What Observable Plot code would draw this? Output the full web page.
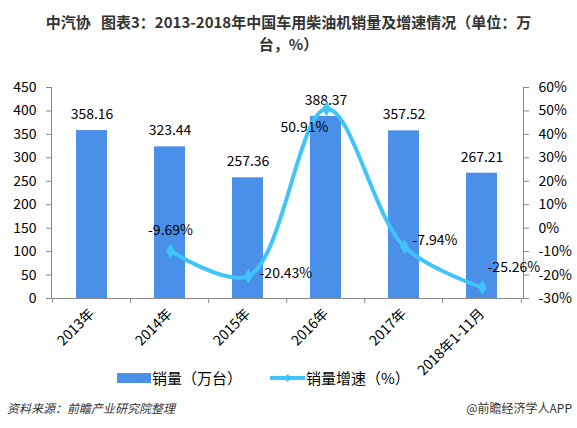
<!DOCTYPE html>
<html>
<head>
<meta charset="utf-8">
<script src="https://cdn.jsdelivr.net/npm/d3@7"></script>
<script src="https://cdn.jsdelivr.net/npm/@observablehq/plot@0.6"></script>
<style>
  body { margin: 0; background: #fff; }
  #wrap { position: relative; width: 577px; height: 428px; overflow: hidden;
          font-family: "Microsoft YaHei", "Noto Sans CJK SC", sans-serif; color: #000; }
  #title { position: absolute; top: 11px; left: 0; width: 577px; text-align: center;
           font-weight: bold; font-size: 15px; line-height: 22px; color: #333; }
  #chart { position: absolute; top: 60px; left: 0; width: 577px; height: 300px; }
  #chart svg { position: absolute; top: 0; left: 0; }
  .legend { position: absolute; top: 367px; font-size: 15px; line-height: 22px; display: flex; align-items: center; }
  .legend svg { margin-right: 1px; }
  .foot { position: absolute; top: 399px; font-size: 12px; line-height: 18px; color: #333; }
</style>
</head>
<body>
<div id="wrap">
  <div id="title"><div>中汽协&nbsp;&nbsp;&nbsp;图表3：2013-2018年中国车用柴油机销量及增速情况（单位：万</div><div>台，%）</div></div>
  <div id="chart"></div>
  <div class="legend" style="left:117px;">
    <svg width="34" height="12"><rect x="0" y="1" width="34" height="10" fill="#4A8FE8"></rect></svg>
    <span>销量（万台）</span>
  </div>
  <div class="legend" style="left:270px;">
    <svg width="35" height="12"><line x1="0" y1="6" x2="35" y2="6" stroke="#41C4FA" stroke-width="4"></line><path d="M17.5 2 L21.5 6 L17.5 10 L13.5 6 Z" fill="#41C4FA"></path></svg>
    <span>销量增速（%）</span>
  </div>
  <div class="foot" style="left:7px; font-style:italic;">资料来源：前瞻产业研究院整理</div>
  <div class="foot" style="right:5px;">@前瞻经济学人APP</div>
</div>
<script>
// Categories and series
const years = ["2013年", "2014年", "2015年", "2016年", "2017年", "2018年1-11月"];
const sales = [358.16, 323.44, 257.36, 388.37, 357.52, 267.21];      // 万台
const growth = [null, -9.69, -20.43, 50.91, -7.94, -25.26];          // %
const salesTicks = [0, 50, 100, 150, 200, 250, 300, 350, 400, 450];
const growthTicks = [-30, -20, -10, 0, 10, 20, 30, 40, 50, 60];

const rows = years.map((year, i) => ({year, sales: sales[i], growth: growth[i]}));
const growthRows = rows.filter(d => d.growth != null);

const W = 577, H = 300;
const M = {top: 27, bottom: 62, left: 51, right: 54};
const step = (W - M.left - M.right) / years.length;
const font = '"Microsoft YaHei", "Noto Sans CJK SC", sans-serif';
const axisGray = "#888";
const barColor = "#4A8FE8";
const lineColor = "#41C4FA";

const xScale = {domain: years, paddingInner: 0.6, paddingOuter: 0.3, label: null};
const base = {
  width: W, height: H,
  marginTop: M.top, marginBottom: M.bottom, marginLeft: M.left, marginRight: M.right,
  style: {fontFamily: font, fontSize: "14px", color: "#000", background: "transparent", overflow: "visible"}
};

// Bars on the left axis (万台)
const salesChart = Plot.plot({
  ...base,
  x: xScale,
  y: {domain: [0, 450], label: null},
  marks: [
    Plot.barY(rows, {x: "year", y: "sales", fill: barColor}),
    Plot.text(rows, {x: "year", y: "sales", text: d => d.sales.toFixed(2), dy: -16, fontSize: 14}),
    Plot.axisY({anchor: "left", ticks: salesTicks, tickSize: 5, tickPadding: 10, stroke: axisGray, fill: "#000", fontSize: 14}),
    Plot.frame({anchor: "left", stroke: axisGray}),
    Plot.frame({anchor: "right", stroke: axisGray}),
    Plot.ruleY([0], {stroke: axisGray}),
    // category boundary ticks
    Plot.axisX({ticks: years, tickSize: 5, tickFormat: () => "", stroke: axisGray, dx: -step / 2}),
    Plot.axisX({ticks: [years[years.length - 1]], tickSize: 5, tickFormat: () => "", stroke: axisGray, dx: step / 2}),
    // category labels
    Plot.axisX({ticks: years, tickSize: 0, tickPadding: 13, tickRotate: -45, fill: "#000", fontSize: 14})
  ]
});

// Growth line on the right axis (%)
const labelPlacement = {
  "2014年": {dx: 0, dy: -20, textAnchor: "middle"},
  "2015年": {dx: 11, dy: -3, textAnchor: "start"},
  "2016年": {dx: -22, dy: 19, textAnchor: "middle"},
  "2017年": {dx: 8, dy: -6, textAnchor: "start"},
  "2018年1-11月": {dx: 5, dy: -20, textAnchor: "start"}
};

const growthChart = Plot.plot({
  ...base,
  x: {...xScale, axis: null},
  y: {domain: [-30, 60], label: null},
  marks: [
    Plot.axisY({anchor: "right", ticks: growthTicks, tickFormat: d => d + "%", tickSize: 5, tickPadding: 10, stroke: axisGray, fill: "#000", fontSize: 14}),
    Plot.line(growthRows, {x: "year", y: "growth", stroke: lineColor, strokeWidth: 4, curve: "catmull-rom"}),
    Plot.dot(growthRows, {x: "year", y: "growth", symbol: "diamond", r: 4.5, fill: lineColor}),
    ...growthRows.map(d => Plot.text([d], {
      x: "year", y: "growth", text: v => v.growth.toFixed(2) + "%", fontSize: 14,
      ...labelPlacement[d.year]
    }))
  ]
});

const chart = document.getElementById("chart");
chart.appendChild(salesChart);
chart.appendChild(growthChart);
</script>
</body>
</html>
